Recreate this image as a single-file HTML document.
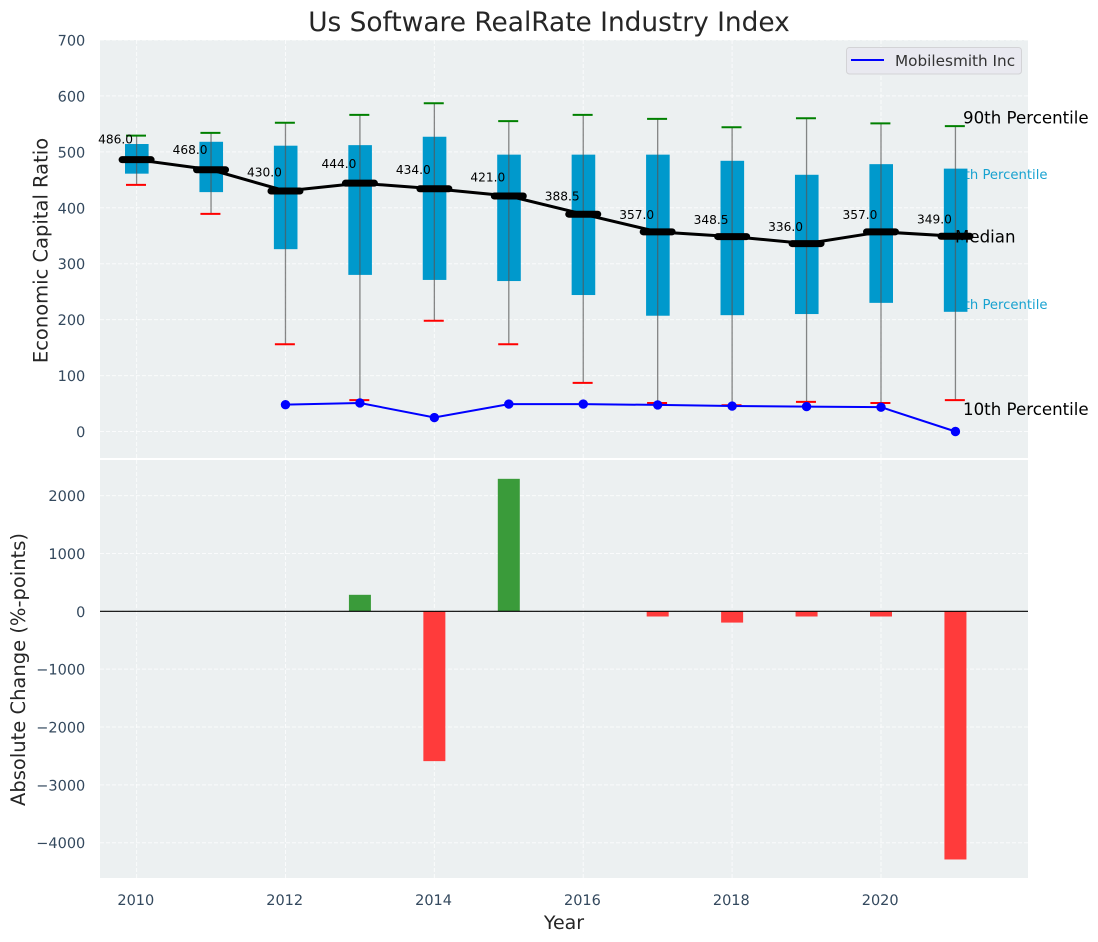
<!DOCTYPE html>
<html lang="en">
<head>
<meta charset="utf-8">
<title>Us Software RealRate Industry Index</title>
<style>
html,body{margin:0;padding:0;background:#fff;}
svg{display:block;font-family:"DejaVu Sans","Liberation Sans",sans-serif;}
#ticks text{text-rendering:geometricPrecision;}
</style>
</head>
<body>
<svg id="chart" xmlns="http://www.w3.org/2000/svg" width="1098" height="942" viewBox="0 0 1098 942">
  <rect x="100" y="40" width="928" height="418" fill="#ecf0f1"/>
  <rect x="100" y="460" width="928" height="418" fill="#ecf0f1"/>
  <g id="grid"></g>
  <g id="notes-back"></g>
  <g id="boxes"></g>
  <g id="whiskers"></g>
  <g id="medians"></g>
  <g id="company"></g>
  <g id="notes-front"></g>
  <g id="bars"></g>
  <g id="ticks"></g>
  <text x="549" y="31" text-anchor="middle" font-size="26.4" fill="#262626">Us Software RealRate Industry Index</text>
  <text transform="translate(47.5 250.5) rotate(-90)" text-anchor="middle" font-size="19.5" fill="#262626">Economic Capital Ratio</text>
  <text transform="translate(25 669.5) rotate(-90)" text-anchor="middle" font-size="19.5" fill="#262626">Absolute Change (%-points)</text>
  <text x="564" y="929" text-anchor="middle" font-size="19" fill="#262626">Year</text>
  <g>
    <rect x="846.5" y="47.5" width="175" height="26.5" rx="3" fill="#e9e9f0" stroke="#d3d3d6"/>
    <line x1="851" y1="60" x2="884" y2="60" stroke="#0000ff" stroke-width="2"/>
    <text x="895" y="66" font-size="15.25" fill="#333">Mobilesmith Inc</text>
  </g>
</svg>
<script>
const years = [2010,2011,2012,2013,2014,2015,2016,2017,2018,2019,2020,2021];
const p90 = [529,534,552,566,587,555,566,559,544,560,551,546];
const p75 = [514,518,511,512,527,495,495,495,484,459,478,470];
const median = [486,468,430,444,434,421,388.5,357,348.5,336,357,349];
const p25 = [461,428,326,280,271,269,244,207,208,210,230,214];
const p10 = [441,389,156,56,198,156,87,51,47,53,51,56];
const companyYears = [2012,2013,2014,2015,2016,2017,2018,2019,2020,2021];
const companyValues = [48,51,25,49,49,47.5,45.5,44.5,43.5,0];
const changes = [0,0,0,285,-2590,2290,0,-90,-195,-90,-90,-4290];
const xTickLabels = [2010,2012,2014,2016,2018,2020];
const topTickLabels = [0,100,200,300,400,500,600,700];
const bottomTickLabels = [-4000,-3000,-2000,-1000,0,1000,2000];

const NS = 'http://www.w3.org/2000/svg';
const X = v => 136.6 + (v - 2010) * 74.44;
const YT = v => 431.5 - v * 0.5593;
const YB = v => 611.3 - v * 0.05785;
const make = (parent, tag) => parent.appendChild(document.createElementNS(NS, tag));
const setAll = (el, a) => { for (const k in a) el.setAttribute(k, a[k]); return el; };
const $ = id => document.getElementById(id);
const GRID = {stroke:'#fff','stroke-width':1,'stroke-dasharray':'4 2','stroke-opacity':0.75};

// grid
for (const t of xTickLabels) {
  for (const [a,b] of [[40,458],[460,878]]) {
    const el = make($('grid'),'line');
    
    
    setAll(el,{x1:X(t),x2:X(t),y1:a,y2:b,...GRID});
  }
}
for (const t of topTickLabels) {
  const el = make($('grid'),'line');
  
  
  setAll(el,{x1:100,x2:1028,y1:YT(t),y2:YT(t),...GRID});
}
for (const t of bottomTickLabels) {
  const el = make($('grid'),'line');
  
  
  setAll(el,{x1:100,x2:1028,y1:YB(t),y2:YB(t),...GRID});
}

// tick labels
for (const t of xTickLabels) {
  const el = make($('ticks'),'text');
  
  
  setAll(el,{x:X(t)-0.8,y:905,'text-anchor':'middle','font-size':14.5,fill:'#34495e'});
  el.textContent = t;
}
for (const t of topTickLabels) {
  const el = make($('ticks'),'text');
  
  
  setAll(el,{x:85.3,y:YT(t)+5.5,'text-anchor':'end','font-size':14.5,fill:'#34495e'});
  el.textContent = t;
}
for (const t of bottomTickLabels) {
  const el = make($('ticks'),'text');
  
  
  setAll(el,{x:85.3,y:YB(t)+5.5,'text-anchor':'end','font-size':14.5,fill:'#34495e'});
  el.textContent = String(t).replace('-','\u2212');
}

// notes hidden behind last box
const last = years.length - 1;
const n75 = make($('notes-back'),'text');


setAll(n75,{x:1047.5,y:YT(p75[last])+10.5,'text-anchor':'end','font-size':13.2,fill:'#0099cc','fill-opacity':0.9});
n75.textContent = '75th Percentile';
const n25 = make($('notes-back'),'text');


setAll(n25,{x:1047.5,y:YT(p25[last])-2.8,'text-anchor':'end','font-size':13.2,fill:'#0099cc','fill-opacity':0.9});
n25.textContent = '25th Percentile';

// boxes and whiskers
years.forEach((yr,i) => {
  const box = make($('boxes'),'rect');
  
  
  setAll(box,{x:X(yr)-11.6,width:23.6,y:YT(p75[i]),height:YT(p25[i])-YT(p75[i]),fill:'#0099cc'});

  const w = make($('whiskers'),'line');
  
  
  setAll(w,{x1:X(yr),x2:X(yr),y1:YT(p90[i]),y2:YT(p10[i]),stroke:'#555','stroke-opacity':0.7,'stroke-width':1.3});

  const hi = make($('whiskers'),'line');
  
  
  setAll(hi,{x1:X(yr)-10.6,x2:X(yr)+9.4,y1:YT(p90[i]),y2:YT(p90[i]),stroke:'#008000','stroke-width':2});

  const lo = make($('whiskers'),'line');
  
  
  setAll(lo,{x1:X(yr)-10.6,x2:X(yr)+9.4,y1:YT(p10[i]),y2:YT(p10[i]),stroke:'#ff0000','stroke-width':2});
});

// median line
const mLine = make($('medians'),'polyline');


setAll(mLine,{points:years.map((yr,i)=>X(yr)+','+YT(median[i])).join(' '),fill:'none',stroke:'#000','stroke-width':3});
years.forEach((yr,i) => {
  const m = make($('medians'),'line');
  
  
  setAll(m,{x1:X(yr)-14.5,x2:X(yr)+14.5,y1:YT(median[i]),y2:YT(median[i]),stroke:'#000','stroke-width':7,'stroke-linecap':'round'});
  const t = make($('medians'),'text');
  
  
  setAll(t,{x:X(yr)-21,y:YT(median[i])-(4.7+0.0233*median[i]),'text-anchor':'middle','font-size':12.2,fill:'#000'});
  t.textContent = median[i].toFixed(1);
});

// company line
const cLine = make($('company'),'polyline');


setAll(cLine,{points:companyYears.map((yr,i)=>X(yr)+','+YT(companyValues[i])).join(' '),fill:'none',stroke:'#0000ff','stroke-width':2});
companyYears.forEach((yr,i) => {
  const c = make($('company'),'circle');
  
  
  setAll(c,{cx:X(yr),cy:YT(companyValues[i]),r:4.7,fill:'#0000ff'});
});

// front notes
const n90 = make($('notes-front'),'text');


setAll(n90,{x:963,y:YT(p90[last])-2.7,'font-size':16.65,fill:'#000'});
n90.textContent = '90th Percentile';
const nMed = make($('notes-front'),'text');


setAll(nMed,{x:955,y:YT(median[last])+6,'font-size':16.65,fill:'#000'});
nMed.textContent = 'Median';
const n10 = make($('notes-front'),'text');


setAll(n10,{x:963,y:YT(p10[last])+15,'font-size':16.65,fill:'#000'});
n10.textContent = '10th Percentile';

// change bars
years.forEach((yr,i) => {
  if (!changes[i]) return;
  const b = make($('bars'),'rect');
  
  
  const top = Math.min(YB(0),YB(changes[i]));
  setAll(b,{x:X(yr)-11,width:22,y:top,height:Math.abs(YB(changes[i])-YB(0)),fill:changes[i]>0?'#3a9b3a':'#ff3b3b'});
});
const zero = make($('bars'),'line');


setAll(zero,{x1:100,x2:1028,y1:YB(0),y2:YB(0),stroke:'#000','stroke-width':1.2});
</script>
</body>
</html>
